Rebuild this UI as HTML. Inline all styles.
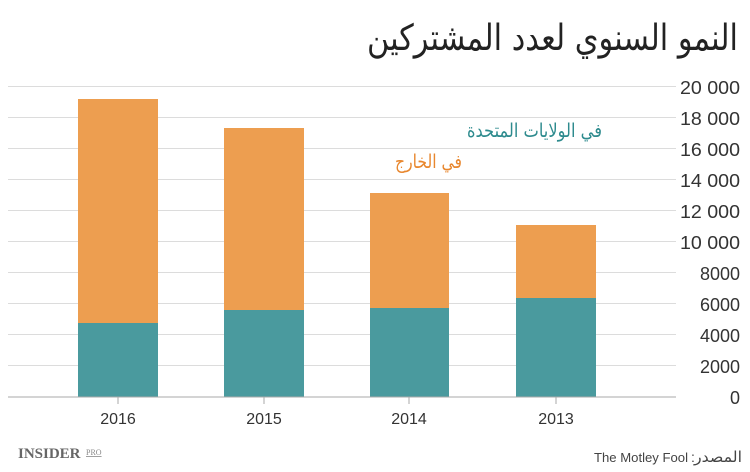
<!DOCTYPE html>
<html><head><meta charset="utf-8"><style>
html,body{margin:0;padding:0;background:#fff;width:750px;height:472px;overflow:hidden}
</style></head><body>
<svg width="750" height="472" viewBox="0 0 750 472" xmlns="http://www.w3.org/2000/svg" style="font-family:'Liberation Sans',sans-serif">
<text x="738" y="50" text-anchor="end" font-size="36" fill="#222" textLength="371" lengthAdjust="spacingAndGlyphs" style="font-family:'DejaVu Sans',sans-serif">النمو السنوي لعدد المشتركين</text>
<g stroke="#dcdcdc" stroke-width="1">
<line x1="8" x2="676" y1="86.5" y2="86.5"/><line x1="8" x2="676" y1="117.5" y2="117.5"/>
<line x1="8" x2="676" y1="148.5" y2="148.5"/><line x1="8" x2="676" y1="179.5" y2="179.5"/>
<line x1="8" x2="676" y1="210.5" y2="210.5"/><line x1="8" x2="676" y1="241.5" y2="241.5"/>
<line x1="8" x2="676" y1="272.5" y2="272.5"/><line x1="8" x2="676" y1="303.5" y2="303.5"/>
<line x1="8" x2="676" y1="334.5" y2="334.5"/><line x1="8" x2="676" y1="365.5" y2="365.5"/>
</g>
<g font-size="18" fill="#333" text-anchor="end">
<text x="740" y="94" textLength="60" lengthAdjust="spacingAndGlyphs">20 000</text><text x="740" y="125" textLength="60" lengthAdjust="spacingAndGlyphs">18 000</text><text x="740" y="156" textLength="60" lengthAdjust="spacingAndGlyphs">16 000</text>
<text x="740" y="187" textLength="60" lengthAdjust="spacingAndGlyphs">14 000</text><text x="740" y="218" textLength="60" lengthAdjust="spacingAndGlyphs">12 000</text><text x="740" y="249" textLength="60" lengthAdjust="spacingAndGlyphs">10 000</text>
<text x="740" y="280">8000</text><text x="740" y="311">6000</text><text x="740" y="342">4000</text>
<text x="740" y="373">2000</text><text x="740" y="404">0</text>
</g>
<g fill="#ED9E50">
<rect x="78" y="99" width="80" height="225"/><rect x="224" y="128" width="80" height="182"/>
<rect x="370" y="193" width="79" height="115"/><rect x="516" y="225" width="80" height="73"/>
</g>
<g fill="#4A9A9E">
<rect x="78" y="323" width="80" height="74"/><rect x="224" y="310" width="80" height="87"/>
<rect x="370" y="308" width="79" height="89"/><rect x="516" y="298" width="80" height="99"/>
</g>
<line x1="8" x2="676" y1="397" y2="397" stroke="#aaa" stroke-width="1"/>
<g stroke="#aaa"><line x1="118" x2="118" y1="397" y2="404"/><line x1="264" x2="264" y1="397" y2="404"/><line x1="409" x2="409" y1="397" y2="404"/><line x1="556" x2="556" y1="397" y2="404"/></g>
<g font-size="16" fill="#333" text-anchor="middle">
<text x="118" y="424">2016</text><text x="264" y="424">2015</text><text x="409" y="424">2014</text><text x="556" y="424">2013</text>
</g>
<text x="602" y="137" text-anchor="end" font-size="19" fill="#2E8B8E" textLength="135" lengthAdjust="spacingAndGlyphs" style="font-family:'DejaVu Sans',sans-serif">في الولايات المتحدة</text>
<text x="462" y="168" text-anchor="end" font-size="19" fill="#E8872E" textLength="67" lengthAdjust="spacingAndGlyphs" style="font-family:'DejaVu Sans',sans-serif">في الخارج</text>
<text x="18" y="458" font-size="15" font-weight="bold" fill="#666" style="font-family:'Liberation Serif',serif">INSIDER</text>
<text x="86" y="455" font-size="8" fill="#888" text-decoration="underline" style="font-family:'Liberation Serif',serif">PRO</text>
<text x="688" y="462" text-anchor="end" font-size="13" fill="#444" textLength="94" lengthAdjust="spacingAndGlyphs">The Motley Fool</text>
<text x="691" y="462" font-size="14" fill="#444">:</text>
<text x="742" y="462" text-anchor="end" font-size="15" fill="#444" textLength="48" lengthAdjust="spacingAndGlyphs" style="font-family:'DejaVu Sans',sans-serif">المصدر</text>
</svg>
</body></html>
